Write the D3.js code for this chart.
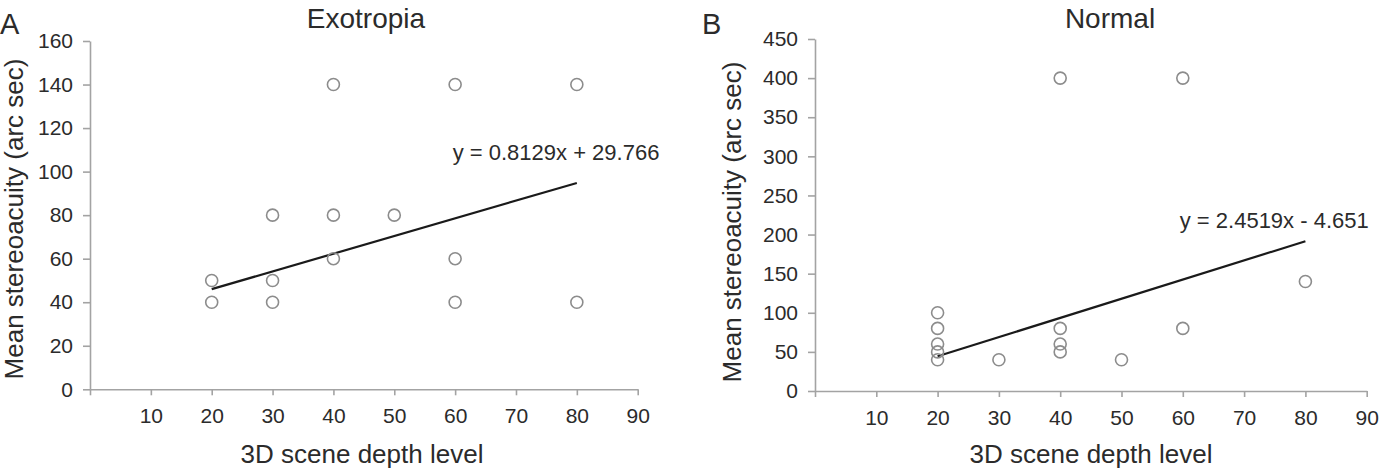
<!DOCTYPE html>
<html>
<head>
<meta charset="utf-8">
<script src="https://cdn.jsdelivr.net/npm/d3@7"></script>
<style>
  html, body { margin: 0; padding: 0; background: #fff; }
  svg text { font-family: "Liberation Sans", Arial, sans-serif; fill: #2b2b2b; }
</style>
</head>
<body>
<svg id="chart" width="1380" height="469"></svg>
<script>
// ---------- data ----------
const xTicks = [0, 10, 20, 30, 40, 50, 60, 70, 80, 90];

// Panel A: Exotropia
const exoX = [20, 20, 30, 30, 30, 40, 40, 40, 50, 60, 60, 60, 80, 80];
const exoY = [50, 40, 80, 50, 40, 140, 80, 60, 80, 140, 60, 40, 140, 40];
const exoYTicks = [0, 20, 40, 60, 80, 100, 120, 140, 160];
const exoFit = { slope: 0.8129, intercept: 29.766, from: 20, to: 80 };
const exoEq = "y = 0.8129x + 29.766";

// Panel B: Normal
const norX = [20, 20, 20, 20, 20, 30, 40, 40, 40, 40, 50, 60, 60, 80];
const norY = [100, 80, 60, 50, 40, 40, 400, 80, 60, 50, 40, 400, 80, 140];
const norYTicks = [0, 50, 100, 150, 200, 250, 300, 350, 400, 450];
const norFit = { slope: 2.4519, intercept: -4.651, from: 20, to: 80 };
const norEq = "y = 2.4519x - 4.651";

const panels = [
  { letter: "A", title: "Exotropia", xs: exoX, ys: exoY, yTicks: exoYTicks, fit: exoFit, eq: exoEq,
    xr: [90, 637.7], yr: [389.3, 41], eqPos: [59.6, 105.5], titleX: 366, letterX: 0,
    yTitleX: 22.5, yTitleY: 219, xTitleX: 362 },
  { letter: "B", title: "Normal", xs: norX, ys: norY, yTicks: norYTicks, fit: norFit, eq: norEq,
    xr: [815, 1366.7], yr: [391, 39], eqPos: [59.5, 208.5], titleX: 1110, letterX: 702,
    yTitleX: 741, yTitleY: 222, xTitleX: 1091 }
];

const svg = d3.select("#chart");
const axisColor = "#a3a3a3";

panels.forEach(p => {
  const g = svg.append("g");
  const x = d3.scaleLinear().domain([0, 90]).range(p.xr);
  const yMax = p.yTicks[p.yTicks.length - 1];
  const y = d3.scaleLinear().domain([0, yMax]).range(p.yr);

  // x axis
  const xAxis = g.append("g")
    .attr("transform", `translate(0,${y(0)})`)
    .call(d3.axisBottom(x).tickValues(xTicks).tickSize(6).tickSizeOuter(0).tickPadding(13)
      .tickFormat(d => d === 0 ? "" : d));
  // y axis
  const yAxis = g.append("g")
    .attr("transform", `translate(${x(0)},0)`)
    .call(d3.axisLeft(y).tickValues(p.yTicks).tickSize(7).tickSizeOuter(0).tickPadding(10));

  [xAxis, yAxis].forEach(a => {
    a.selectAll("path.domain").attr("stroke", axisColor).attr("stroke-width", 1.6);
    a.selectAll(".tick line").attr("stroke", axisColor).attr("stroke-width", 1.6);
    a.selectAll(".tick text").attr("font-size", 21)
      .attr("font-family", '"Liberation Sans", Arial, sans-serif').attr("fill", "#2b2b2b");
  });

  // regression line
  g.append("line")
    .attr("x1", x(p.fit.from)).attr("y1", y(p.fit.slope * p.fit.from + p.fit.intercept))
    .attr("x2", x(p.fit.to)).attr("y2", y(p.fit.slope * p.fit.to + p.fit.intercept))
    .attr("stroke", "#1a1a1a").attr("stroke-width", 2.2);

  // points
  g.selectAll("circle.pt").data(p.xs.map((v, i) => [v, p.ys[i]]))
    .enter().append("circle").attr("class", "pt")
    .attr("cx", d => x(d[0])).attr("cy", d => y(d[1])).attr("r", 6)
    .attr("fill", "none").attr("stroke", "#8c8c8c").attr("stroke-width", 1.6);

  // equation
  g.append("text").attr("x", x(p.eqPos[0])).attr("y", y(p.eqPos[1]))
    .attr("font-size", 22).text(p.eq);

  // title
  g.append("text").attr("x", p.titleX).attr("y", 28).attr("text-anchor", "middle")
    .attr("font-size", 28).text(p.title);
  // letter
  g.append("text").attr("x", p.letterX).attr("y", 34).attr("font-size", 29).attr("fill", "#111")
    .text(p.letter);

  // axis titles
  g.append("text").attr("x", p.xTitleX).attr("y", 463).attr("text-anchor", "middle")
    .attr("font-size", 26).text("3D scene depth level");
  g.append("text").attr("transform", `translate(${p.yTitleX},${p.yTitleY}) rotate(-90)`)
    .attr("text-anchor", "middle").attr("font-size", 26).text("Mean stereoacuity (arc sec)");
});
</script>
</body>
</html>
